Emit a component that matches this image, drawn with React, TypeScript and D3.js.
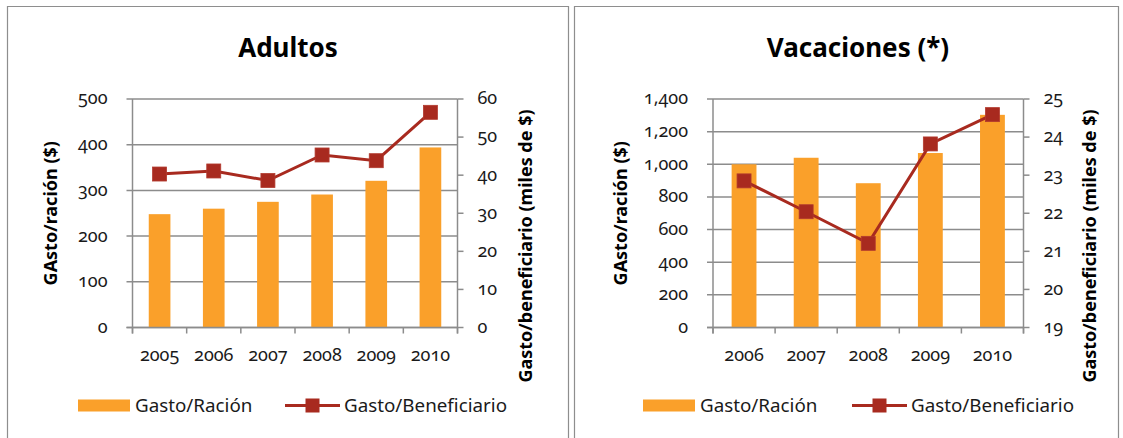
import React, { useRef, useEffect } from 'react';
import * as d3 from 'd3';

// Adultos
const adultYears = ['2005', '2006', '2007', '2008', '2009', '2010'];
const adultRacion = [248, 260, 275, 291, 321, 394];
const adultBenef = [40.3, 41.1, 38.6, 45.3, 43.8, 56.5];
const adultLeftTicks = [0, 100, 200, 300, 400, 500];
const adultRightTicks = [0, 10, 20, 30, 40, 50, 60];

// Vacaciones (*)
const vacYears = ['2006', '2007', '2008', '2009', '2010'];
const vacRacion = [1000, 1040, 884, 1069, 1303];
const vacBenef = [22.85, 22.04, 21.21, 23.82, 24.59];
const vacLeftTicks = [0, 200, 400, 600, 800, 1000, 1200, 1400];
const vacRightTicks = [19, 20, 21, 22, 23, 24, 25];

const seriesNames = ['Gasto/Ración', 'Gasto/Beneficiario'];
const leftTitle = 'GAsto/ración ($)';
const rightTitle = 'Gasto/beneficiario (miles de $)';

const W = 1123;
const H = 438;
const ORANGE = '#FAA02A';
const RED = '#A82A1F';
const GRID = '#8C8C8C';
const FONT = '"Noto Sans", "Open Sans", sans-serif';

type PanelCfg = {
  title: string;
  titleX: number;
  frame: [number, number];
  years: string[];
  bars: number[];
  line: number[];
  leftTicks: number[];
  rightTicks: number[];
  fmt: (n: number) => string;
  plot: { x0: number; x1: number; y0: number; y1: number };
  leftTitleX: number;
  rightTitleX: number;
  rightTitleY: number;
  legendX: number;
  lineLegendX: number;
};

const panels: PanelCfg[] = [
  {
    title: 'Adultos', titleX: 288, frame: [7, 568],
    years: adultYears, bars: adultRacion, line: adultBenef,
    leftTicks: adultLeftTicks, rightTicks: adultRightTicks, fmt: d3.format(','),
    plot: { x0: 132.5, x1: 457.5, y0: 99, y1: 327.5 },
    leftTitleX: 51, rightTitleX: 526, rightTitleY: 246,
    legendX: 78, lineLegendX: 285,
  },
  {
    title: 'Vacaciones (*)', titleX: 858, frame: [574, 1118],
    years: vacYears, bars: vacRacion, line: vacBenef,
    leftTicks: vacLeftTicks, rightTicks: vacRightTicks, fmt: d3.format(','),
    plot: { x0: 713, x1: 1023.5, y0: 99, y1: 327.5 },
    leftTitleX: 621, rightTitleX: 1090, rightTitleY: 246,
    legendX: 643, lineLegendX: 852,
  },
];

function drawPanel(svg: d3.Selection<SVGSVGElement, unknown, null, undefined>, c: PanelCfg) {
  const g = svg.append('g');
  const { x0, x1, y0, y1 } = c.plot;

  // frame
  g.append('path')
    .attr('d', `M${c.frame[0] + 0.5},${H + 2}V${6.5}H${c.frame[1] + 0.5}V${H + 2}`)
    .attr('fill', 'none').attr('stroke', '#8E8E8E').attr('stroke-width', 1.2);

  // title
  g.append('text')
    .attr('x', c.titleX).attr('y', 57)
    .attr('text-anchor', 'middle')
    .attr('font-size', 26).attr('font-weight', 'bold')
    .attr('fill', '#000')
    .text(c.title);

  const x = d3.scaleBand<string>().domain(c.years).range([x0, x1])
    .paddingInner(0.6).paddingOuter(0.3);
  const step = x.step();
  const yL = d3.scaleLinear()
    .domain([c.leftTicks[0], c.leftTicks[c.leftTicks.length - 1]]).range([y1, y0]);
  const yR = d3.scaleLinear()
    .domain([c.rightTicks[0], c.rightTicks[c.rightTicks.length - 1]]).range([y1, y0]);

  // gridlines
  g.append('g').selectAll('line').data(c.leftTicks).enter().append('line')
    .attr('x1', x0 - 6).attr('x2', x1)
    .attr('y1', d => yL(d)).attr('y2', d => yL(d))
    .attr('stroke', GRID).attr('stroke-width', 1.5);

  // bars
  g.append('g').selectAll('rect').data(c.bars).enter().append('rect')
    .attr('x', (_, i) => x(c.years[i]) as number)
    .attr('width', x.bandwidth())
    .attr('y', d => yL(d))
    .attr('height', d => y1 - yL(d))
    .attr('fill', ORANGE);

  // axes lines
  g.append('line').attr('x1', x0).attr('x2', x0).attr('y1', y0).attr('y2', y1 + 6)
    .attr('stroke', GRID).attr('stroke-width', 1.5);
  g.append('line').attr('x1', x1).attr('x2', x1).attr('y1', y0).attr('y2', y1 + 6)
    .attr('stroke', GRID).attr('stroke-width', 1.5);
  g.append('line').attr('x1', x0 - 6).attr('x2', x1).attr('y1', y1).attr('y2', y1)
    .attr('stroke', GRID).attr('stroke-width', 1.5);

  // x category ticks
  g.append('g').selectAll('line').data(d3.range(c.years.length + 1)).enter().append('line')
    .attr('x1', i => x0 + i * step).attr('x2', i => x0 + i * step)
    .attr('y1', y1).attr('y2', y1 + 6)
    .attr('stroke', GRID).attr('stroke-width', 1.5);

  // right ticks
  g.append('g').selectAll('line').data(c.rightTicks).enter().append('line')
    .attr('x1', x1).attr('x2', x1 + 6)
    .attr('y1', d => yR(d)).attr('y2', d => yR(d))
    .attr('stroke', GRID).attr('stroke-width', 1.5);

  const tickStyle = (s: d3.Selection<SVGTextElement, any, any, any>) =>
    s.attr('font-size', 18).attr('fill', '#1a1a1a')
      .style('font-variant-numeric', 'oldstyle-nums');

  g.append('g').selectAll('text').data(c.leftTicks).enter().append('text')
    .attr('x', x0 - 25).attr('y', d => yL(d)).attr('dy', '0.3em')
    .attr('text-anchor', 'end')
    .call(tickStyle)
    .text(d => c.fmt(d));

  g.append('g').selectAll('text').data(c.rightTicks).enter().append('text')
    .attr('x', x1 + 20).attr('y', d => yR(d)).attr('dy', '0.3em')
    .attr('text-anchor', 'start')
    .call(tickStyle)
    .text(d => String(d));

  g.append('g').selectAll('text').data(c.years).enter().append('text')
    .attr('x', d => (x(d) as number) + x.bandwidth() / 2).attr('y', 361)
    .attr('text-anchor', 'middle')
    .call(tickStyle)
    .text(d => d);

  // line series
  const line = d3.line<number>()
    .x((_, i) => (x(c.years[i]) as number) + x.bandwidth() / 2)
    .y(d => yR(d));
  g.append('path').datum(c.line)
    .attr('d', line)
    .attr('fill', 'none').attr('stroke', RED).attr('stroke-width', 3);
  g.append('g').selectAll('rect').data(c.line).enter().append('rect')
    .attr('x', (_, i) => (x(c.years[i]) as number) + x.bandwidth() / 2 - 7)
    .attr('y', d => yR(d) - 7)
    .attr('width', 14).attr('height', 14)
    .attr('fill', RED).attr('stroke', '#B23A2E').attr('stroke-width', 0.8);

  // axis titles
  g.append('text')
    .attr('transform', `translate(${c.leftTitleX},${(y0 + y1) / 2}) rotate(-90)`)
    .attr('dy', '0.35em')
    .attr('text-anchor', 'middle').attr('font-size', 18).attr('font-weight', 'bold')
    .text(leftTitle);
  g.append('text')
    .attr('transform', `translate(${c.rightTitleX},${c.rightTitleY}) rotate(-90)`)
    .attr('dy', '0.35em')
    .attr('text-anchor', 'middle').attr('font-size', 18).attr('font-weight', 'bold')
    .text(rightTitle);

  // legend
  const ly = 405.5;
  g.append('rect').attr('x', c.legendX).attr('y', ly - 6).attr('width', 52).attr('height', 12)
    .attr('fill', ORANGE);
  g.append('text').attr('x', c.legendX + 57).attr('y', ly).attr('dy', '0.35em')
    .attr('font-size', 18.8).attr('fill', '#1a1a1a').text(seriesNames[0]);
  g.append('line').attr('x1', c.lineLegendX).attr('x2', c.lineLegendX + 55)
    .attr('y1', ly).attr('y2', ly).attr('stroke', RED).attr('stroke-width', 3);
  g.append('rect').attr('x', c.lineLegendX + 27.5 - 7).attr('y', ly - 7)
    .attr('width', 14).attr('height', 14).attr('fill', RED);
  g.append('text').attr('x', c.lineLegendX + 59).attr('y', ly).attr('dy', '0.35em')
    .attr('font-size', 18.8).attr('fill', '#1a1a1a').text(seriesNames[1]);
}

const App: React.FC = () => {
  const svgRef = useRef<SVGSVGElement>(null);

  useEffect(() => {
    if (!svgRef.current) return;
    const svg = d3.select(svgRef.current);
    svg.selectAll('*').remove();
    svg.append('rect').attr('width', W).attr('height', H).attr('fill', '#fff');
    panels.forEach(p => drawPanel(svg, p));
  }, []);

  return (
    <div style={{ position: 'absolute', left: 0, top: 0 }}>
      <svg ref={svgRef} width={W} height={H} style={{ display: 'block', fontFamily: FONT }} />
    </div>
  );
};

export default App;
